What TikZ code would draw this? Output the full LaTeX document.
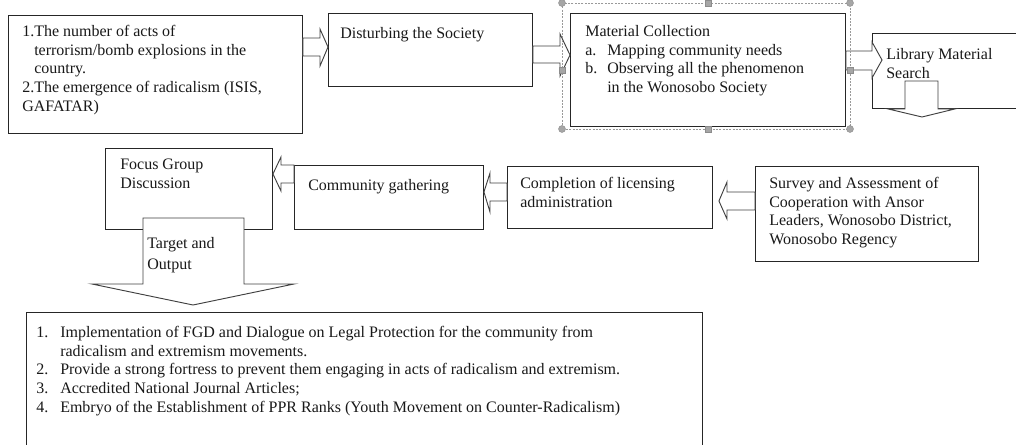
\documentclass[tikz,border=0pt]{standalone}
\usepackage{fontspec}
\setmainfont{Liberation Serif}
\usetikzlibrary{calc}
\tikzset{
  box/.style={draw=black!85,line width=0.7pt,fill=white,inner sep=0pt,anchor=north west},
  sz/.style 2 args={minimum width=#1*0.75pt,minimum height=#2*0.75pt},
  txt/.style={anchor=north west,inner sep=0pt,align=left,text=black!90,font=\fontsize{12}{14}\selectfont,execute at begin node=\strut},
  blk/.style={draw=black!75,line width=0.7pt,fill=white,line join=miter},
  hdl/.style={fill=black!35,draw=black!45,line width=0.3pt}
}
\begin{document}
\begin{tikzpicture}[x=0.75pt,y=-0.75pt]
\useasboundingbox (0,0) rectangle (1016,445);
\node[box,sz={294}{118}](1)at(8,15){};
\node[box,sz={204}{73}](2)at(328,13){};
\node[box,sz={275}{113}](3)at(570,13){};
\node[box,sz={160}{75}](4)at(872,33){};
\node[box,sz={223}{95}](5)at(755,166){};
\node[box,sz={205}{62}](6)at(507,166){};
\node[box,sz={189}{64}](7)at(294,165){};
\node[box,sz={167}{81}](8)at(105,148){};
\node[box,sz={676}{140}](9)at(26,312){};
\draw[blk](1.east|-0,38)--(320,38)--(320,29)--(2.west|-0,47)--(320,66)--(320,56)--(1.east|-0,56)--cycle;
\draw[blk](2.east|-0,46)--(560,46)--(560,34)--(3.west|-0,55)--(560,76)--(560,63)--(2.east|-0,63)--cycle;
\draw[blk](3.east|-0,51)--(4.west|-0,51)--(4.west|-0,42)--($(4.west|-0,60)+(10,0)$)--(4.west|-0,78)--(4.west|-0,70)--(3.east|-0,70)--cycle;
\draw[blk](905,81)--(938,81)--(938,0|-4.south)--(955,0|-4.south)--(922,117)--(888,0|-4.south)--(905,0|-4.south)--cycle;
\draw[blk](5.west|-0,192)--(727,192)--(727,182)--($(6.east|-0,201)+(6,0)$)--(727,219)--(727,210)--(5.west|-0,210)--cycle;
\draw[blk](6.west|-0,183)--(490,183)--(490,173)--(7.east|-0,192)--(490,212)--(490,201)--(6.west|-0,201)--cycle;
\draw[blk](7.west|-0,165)--(281,165)--(281,157)--(8.east|-0,174)--(281,191)--(281,183)--(7.west|-0,183)--cycle;
\draw[blk](143,218)--(244,218)--(244,284)--(294,284)--(193,305)--(92,284)--(143,284)--cycle;
\draw[black!40,dash pattern=on 1.5pt off 1pt,line width=0.4pt](562,3)rectangle(850,129);
\draw[black!40,line width=0.4pt](708,3)--(708,-2);
\foreach \x/\y in {562/3,850/3,562/129,850/129}\fill[hdl](\x,\y)circle[radius=3.5];
\foreach \x/\y in {708/3,708/129,562/70,850/70}\filldraw[hdl]($(\x,\y)+(-3,-3)$)rectangle++(6,6);
\node[txt](1t)at(22,25){1.The number of acts of\\\phantom{1.}terrorism/bomb explosions in the\\\phantom{1.}country.\\2.The emergence of radicalism (ISIS,\\GAFATAR)};
\node[txt](2t)at(340,25){Disturbing the Society};
\node[txt](3t)at(585,25){Material Collection\\\makebox[16.5pt][l]{a.}Mapping community needs\\\makebox[16.5pt][l]{b.}Observing all the phenomenon\\\hspace*{16.5pt}in the Wonosobo Society};
\node[txt](4t)at(886,48){Library Material\\Search};
\node[txt](5t)at(769,177){Survey and Assessment of\\Cooperation with Ansor\\Leaders, Wonosobo District,\\Wonosobo Regency};
\node[txt](6t)at(520,177){Completion of licensing\\administration};
\node[txt](7t)at(308,177){Community gathering};
\node[txt](8t)at(120,159){Focus Group\\Discussion};
\node[txt](10)at(147,237){Target and\\[2pt]Output};
\node[txt](9t)at(36,326){\makebox[18pt][l]{1.}Implementation of FGD and Dialogue on Legal Protection for the community from\\\hspace*{18pt}radicalism and extremism movements.\\\makebox[18pt][l]{2.}Provide a strong fortress to prevent them engaging in acts of radicalism and extremism.\\\makebox[18pt][l]{3.}Accredited National Journal Articles;\\\makebox[18pt][l]{4.}Embryo of the Establishment of PPR Ranks (Youth Movement on Counter-Radicalism)};
\end{tikzpicture}
\end{document}
